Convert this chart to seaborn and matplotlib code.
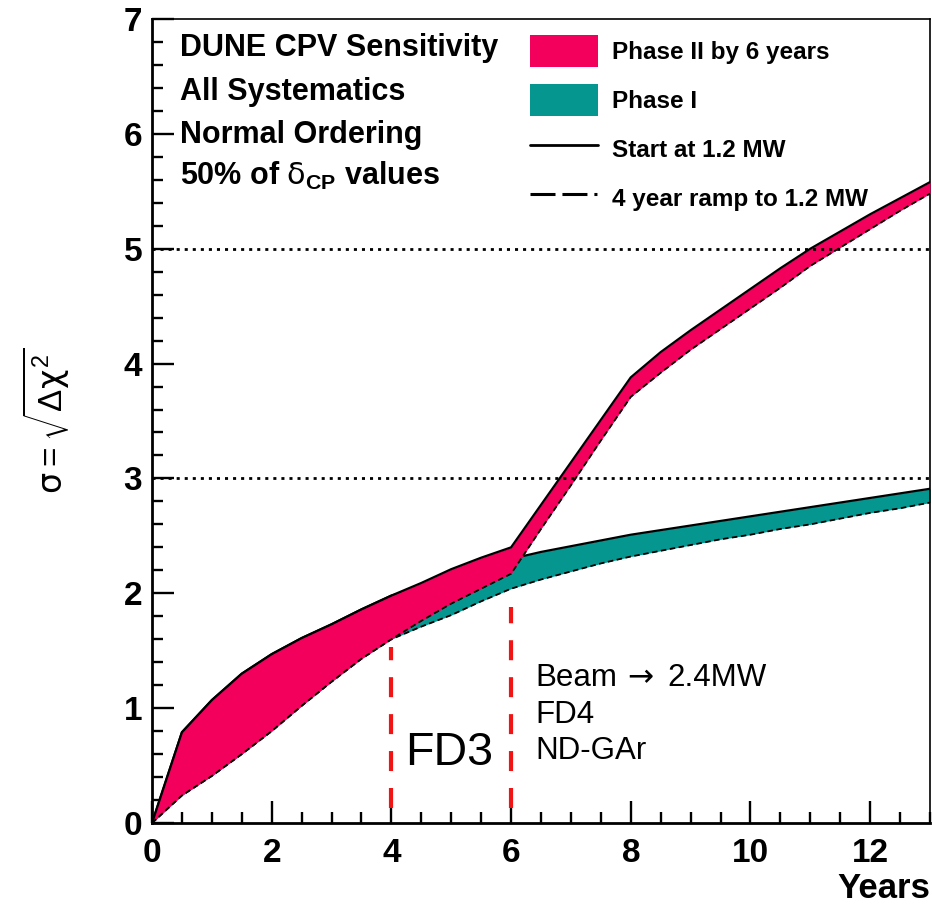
import matplotlib
matplotlib.use('Agg')
import matplotlib.pyplot as plt
import numpy as np
import pandas as pd
import seaborn as sns
from matplotlib.patches import Patch
from matplotlib.lines import Line2D

# ---------------- data ----------------
years = [0, 0.5, 1, 1.5, 2, 2.5, 3, 3.5, 4, 4.5, 5, 5.5, 6, 6.5, 7, 7.5, 8,
         8.5, 9, 9.5, 10, 10.5, 11, 11.5, 12, 12.5, 13]
phase2_start = [0.00, 0.79, 1.07, 1.30, 1.47, 1.61, 1.73, 1.86, 1.98, 2.09, 2.21, 2.31, 2.40,
                2.77, 3.14, 3.51, 3.88, 4.10, 4.29, 4.47, 4.65, 4.83, 5.00, 5.15, 5.30, 5.44, 5.58]
phase2_ramp = [0.00, 0.24, 0.41, 0.60, 0.80, 1.02, 1.23, 1.43, 1.60, 1.76, 1.91, 2.04, 2.17,
               2.56, 2.94, 3.33, 3.71, 3.92, 4.12, 4.30, 4.48, 4.66, 4.85, 5.01, 5.17, 5.33, 5.48]
phase1_start = [0.00, 0.79, 1.07, 1.30, 1.47, 1.61, 1.73, 1.86, 1.98, 2.05, 2.13, 2.22, 2.30,
                2.36, 2.41, 2.46, 2.51, 2.55, 2.59, 2.63, 2.67, 2.71, 2.75, 2.79, 2.83, 2.87, 2.91]
phase1_ramp = [0.00, 0.24, 0.41, 0.60, 0.80, 1.02, 1.23, 1.43, 1.60, 1.71, 1.81, 1.93, 2.04,
               2.12, 2.19, 2.26, 2.32, 2.37, 2.42, 2.47, 2.51, 2.56, 2.60, 2.65, 2.70, 2.74, 2.79]

sigma_levels = [3, 5]
milestone_years = [4, 6]
milestone_tops = [1.53, 1.88]
milestone_bottom = 0.13

info_lines = ['DUNE CPV Sensitivity', 'All Systematics', 'Normal Ordering',
              r'50% of $\delta_{\mathbf{CP}}$ values']
legend_labels = ['Phase II by 6 years', 'Phase I', 'Start at 1.2 MW', '4 year ramp to 1.2 MW']
phase2_notes = ['FD4', 'ND-GAr']
beam_parts = ['Beam', '\u2192', '2.4MW']
x_ticks = [0, 2, 4, 6, 8, 10, 12]
y_ticks = [0, 1, 2, 3, 4, 5, 6, 7]

PINK = '#F3005C'
TEAL = '#05978F'
RED = '#F01414'

# ---------------- style ----------------
sns.set_theme(style='white')
plt.rcParams['font.family'] = ['Liberation Sans', 'DejaVu Sans']
plt.rcParams['mathtext.fontset'] = 'custom'
plt.rcParams['mathtext.rm'] = 'Liberation Sans'
plt.rcParams['mathtext.it'] = 'DejaVu Sans'
plt.rcParams['mathtext.bf'] = 'Liberation Sans:bold'
plt.rcParams['lines.scale_dashes'] = False
plt.rcParams['text.color'] = 'black'
plt.rcParams['axes.labelcolor'] = 'black'
plt.rcParams['xtick.color'] = 'black'
plt.rcParams['ytick.color'] = 'black'

fig = plt.figure(figsize=(9.32, 9.05), dpi=100)
ax = fig.add_axes([152 / 932, 82 / 905, 778 / 932, 804 / 905])

df = pd.DataFrame({'year': years, 'p2s': phase2_start, 'p2r': phase2_ramp,
                   'p1s': phase1_start, 'p1r': phase1_ramp})

# Phase I band
ax.fill_between(df['year'], df['p1r'], df['p1s'], color=TEAL, lw=0, zorder=2)
sns.lineplot(data=df, x='year', y='p1s', color='black', lw=1.6, ax=ax, zorder=3,
             estimator=None, sort=False)
sns.lineplot(data=df, x='year', y='p1r', color='black', lw=1.3, ax=ax, zorder=3,
             estimator=None, sort=False)
ax.lines[-1].set_dashes((4, 2.5))

# Phase II band
ax.fill_between(df['year'], df['p2r'], df['p2s'], color=PINK, lw=0, zorder=4)
sns.lineplot(data=df, x='year', y='p2s', color='black', lw=1.6, ax=ax, zorder=5,
             estimator=None, sort=False)
sns.lineplot(data=df, x='year', y='p2r', color='black', lw=1.3, ax=ax, zorder=5,
             estimator=None, sort=False)
ax.lines[-1].set_dashes((4, 2.5))

# significance levels
for s in sigma_levels:
    ax.axhline(s, color='black', lw=2.0, dashes=(2.2, 3.6), zorder=6)

# milestone markers
for xm, top in zip(milestone_years, milestone_tops):
    ax.plot([xm, xm], [milestone_bottom, top], color=RED, lw=3.0,
            dashes=(14.4, 12.2), zorder=7, solid_capstyle='butt', dash_capstyle='butt')

# ---------------- axes ----------------
ax.set_xlim(0, 13)
ax.set_ylim(0, 7)
ax.set_xticks(x_ticks)
ax.set_yticks(y_ticks)
ax.set_xticks(np.arange(0, 13.01, 0.5), minor=True)
ax.set_yticks(np.arange(0, 7.01, 0.2), minor=True)
ax.tick_params(axis='both', which='both', bottom=True, left=True, top=False, right=False)
ax.tick_params(axis='both', which='major', direction='in', length=16, width=1.7,
               labelsize=24, colors='black')
ax.tick_params(axis='both', which='minor', direction='in', length=8, width=1.7,
               colors='black')
ax.tick_params(axis='x', which='major', pad=11)
ax.tick_params(axis='y', which='major', pad=7)
ax.set_xticklabels([str(v) for v in x_ticks], fontweight='bold')
ax.set_yticklabels([str(v) for v in y_ticks], fontweight='bold')
for side in ['left', 'bottom']:
    ax.spines[side].set_linewidth(2.0)
    ax.spines[side].set_color('black')
for side in ['top', 'right']:
    ax.spines[side].set_linewidth(1.2)
    ax.spines[side].set_color('black')
ax.grid(False)

ax.set_ylabel(r'$\sigma = \sqrt{\Delta\chi^{2}}$', fontsize=24, color='black')
ax.yaxis.set_label_coords(-0.103, 0.50)
ax.set_xlabel('Years', fontsize=25, fontweight='bold', loc='right', color='black')
ax.xaxis.set_label_coords(1.0, -0.061)

# ---------------- texts ----------------
info_baselines_px = [56, 100, 143, 185]
for txt, ypx in zip(info_lines, info_baselines_px):
    ax.text(180 / 932, 1 - ypx / 905, txt, transform=fig.transFigure, fontsize=22,
            fontweight='bold', va='baseline', ha='left', color='black')

ax.text(405 / 932, 1 - 765 / 905, 'FD3', transform=fig.transFigure, fontsize=33.5,
        va='baseline', ha='left', color='black')
# "Beam -> 2.4MW" line, with a larger arrow glyph
for txt, xpx, fam in zip(beam_parts, [535, 627, 667],
                         ['Liberation Sans', 'DejaVu Sans', 'Liberation Sans']):
    ax.text(xpx / 932, 1 - 686 / 905, txt, transform=fig.transFigure, fontsize=22.5,
            family=fam, va='baseline', ha='left', color='black')
for txt, ypx in zip(phase2_notes, [723, 759]):
    ax.text(535 / 932, 1 - ypx / 905, txt, transform=fig.transFigure, fontsize=22.5,
            va='baseline', ha='left', color='black')

# ---------------- legend ----------------
handles = [Patch(facecolor=PINK, edgecolor='none'),
           Patch(facecolor=TEAL, edgecolor='none'),
           Line2D([], [], color='black', lw=2.0),
           Line2D([], [], color='black', lw=2.2, dashes=(18, 5, 18, 5, 2.2, 5))]
leg = ax.legend(handles, legend_labels, loc='upper left',
                bbox_to_anchor=(530 / 932, 1 - 35 / 905), bbox_transform=fig.transFigure,
                frameon=False, prop={'weight': 'bold', 'size': 17.5},
                handlelength=2.8, handleheight=1.62, labelspacing=0.72,
                handletextpad=0.58, borderpad=0, borderaxespad=0)
for t in leg.get_texts():
    t.set_color('black')

fig.savefig('out.png', dpi=100)
